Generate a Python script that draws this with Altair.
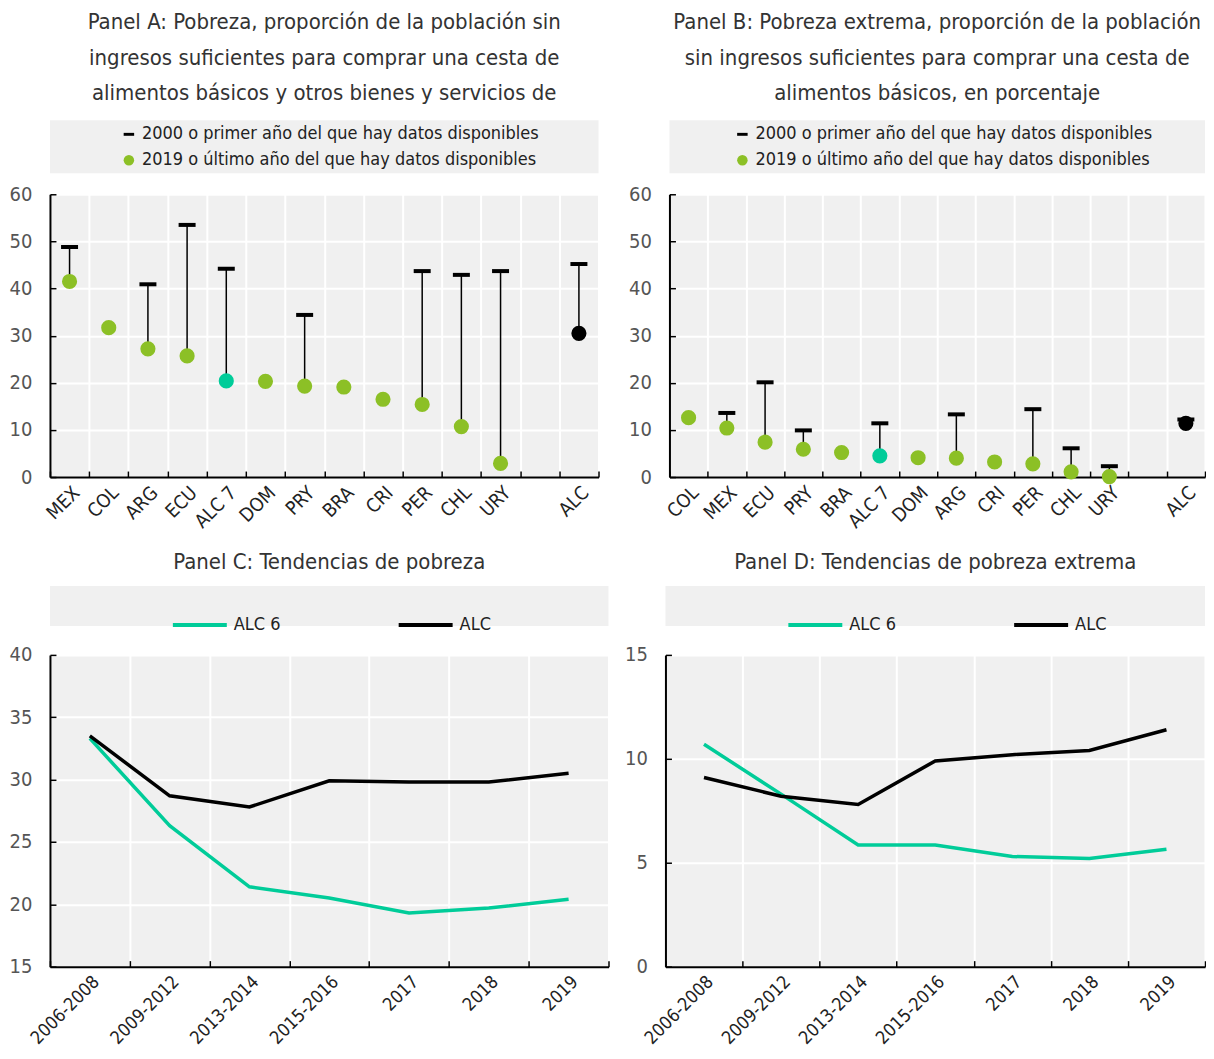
import altair as alt
import pandas as pd

FONT = "'DejaVu Sans Condensed', 'DejaVu Sans', sans-serif"
GREEN = "#8cc026"
TEAL = "#00cc99"
GRAY_BG = "#f0f0f0"

# ---------------- data ----------------
a_paises = ["MEX", "COL", "ARG", "ECU", "ALC 7", "DOM", "PRY", "BRA", "CRI", "PER", "CHL", "URY", "ALC"]
a_2019 = [41.5, 31.7, 27.2, 25.7, 20.4, 20.3, 19.3, 19.1, 16.5, 15.4, 10.7, 2.9, 30.5]
a_2000 = [48.8, None, 40.9, 53.5, 44.2, None, 34.4, None, None, 43.7, 42.9, 43.7, 45.2]

b_paises = ["COL", "MEX", "ECU", "PRY", "BRA", "ALC 7", "DOM", "ARG", "CRI", "PER", "CHL", "URY", "ALC"]
b_2019 = [12.6, 10.4, 7.4, 5.9, 5.2, 4.5, 4.1, 4.0, 3.2, 2.8, 1.1, 0.1, 11.4]
b_2000 = [None, 13.6, 20.1, 9.9, None, 11.4, None, 13.3, None, 14.4, 6.1, 2.3, 12.2]

periodos = ["2006-2008", "2009-2012", "2013-2014", "2015-2016", "2017", "2018", "2019"]
c_alc6 = [33.3, 26.3, 21.4, 20.5, 19.3, 19.7, 20.4]
c_alc = [33.5, 28.7, 27.8, 29.9, 29.8, 29.8, 30.5]
d_alc6 = [10.7, 8.3, 5.85, 5.85, 5.3, 5.2, 5.65]
d_alc = [9.1, 8.2, 7.8, 9.9, 10.2, 10.4, 11.4]

serie_2000 = "2000 o primer año del que hay datos disponibles"
serie_2019 = "2019 o último año del que hay datos disponibles"
serie_lineas = ["ALC 6", "ALC"]

titulo_a = ["Panel A: Pobreza, proporción de la población sin",
            "ingresos suficientes para comprar una cesta de",
            "alimentos básicos y otros bienes y servicios de"]
titulo_b = ["Panel B: Pobreza extrema, proporción de la población",
            "sin ingresos suficientes para comprar una cesta de",
            "alimentos básicos, en porcentaje"]
titulo_c = "Panel C: Tendencias de pobreza"
titulo_d = "Panel D: Tendencias de pobreza extrema"

DASH = "M-1,-0.28H1V0.28H-1Z"


def title_params(text, offset):
    return alt.TitleParams(text=text, font=FONT, fontSize=22, fontWeight="normal",
                           color="#333333", lineHeight=35.5, offset=offset,
                           anchor="middle", frame="group")


def ind(ch):
    return ch.resolve_scale(color="independent", shape="independent").resolve_legend(
        color="independent", shape="independent")


def tick_axes(yvals):
    """Axes that only draw the short inward ticks."""
    ty = alt.Axis(orient="left", offset=-6, tickSize=6, ticks=True, labels=False,
                  domain=False, grid=False, values=yvals, title=None, tickColor="black",
                  tickWidth=1.5, zindex=1)
    tx = alt.Axis(orient="bottom", offset=-6, tickSize=6, ticks=True, labels=False,
                  domain=False, grid=False, tickBand="extent", title=None,
                  tickColor="black", tickWidth=1.5, zindex=1)
    return tx, ty


def legend_frame():
    return dict(x=alt.X("lx:Q", axis=None), y=alt.Y("ly:Q", axis=None))


def dot_panel(paises, v2019, v2000, titulo, w, h, legx, xfont):
    df = pd.DataFrame({"pais": paises, "v2019": v2019, "v2000": v2000})
    df["grupo"] = ["ALC 7" if p == "ALC 7" else ("ALC" if p == "ALC" else "País") for p in paises]
    dom = paises[:-1] + [" ", paises[-1]]
    yvals = [0, 10, 20, 30, 40, 50, 60]
    xscale = alt.Scale(domain=dom, paddingInner=0, paddingOuter=0)
    xaxis = alt.Axis(title=None, tickBand="extent", labelAngle=-45, grid=True,
                     labelPadding=6, labelFontSize=xfont)
    yscale = alt.Scale(domain=[0, 60])
    yaxis = alt.Axis(title=None, values=yvals, grid=True, minExtent=42, maxExtent=42)
    tx, ty = tick_axes(yvals)

    stems = alt.Chart(df).transform_filter("isValid(datum.v2000)").mark_rule(
        color="black", strokeWidth=1.5).encode(
        x=alt.X("pais:N", sort=dom, scale=xscale, axis=xaxis),
        y=alt.Y("v2019:Q", scale=yscale, axis=yaxis), y2="v2000:Q")
    dashes = alt.Chart(df).transform_filter("isValid(datum.v2000)").mark_tick(
        color="black", thickness=4, size=17, opacity=1).encode(
        x=alt.X("pais:N", sort=dom, scale=xscale, axis=tx),
        y=alt.Y("v2000:Q", scale=yscale, axis=ty))
    dots = alt.Chart(df).mark_circle(size=230, opacity=1).encode(
        x=alt.X("pais:N", sort=dom, scale=xscale, axis=None),
        y=alt.Y("v2019:Q", scale=yscale, axis=None),
        color=alt.Color("grupo:N", scale=alt.Scale(domain=["País", "ALC 7", "ALC"],
                                                   range=[GREEN, TEAL, "black"]),
                        legend=None))
    plot = alt.layer(stems, dashes, dots).resolve_axis(x="independent", y="independent").properties(
        width=w, height=h)

    leg_df = pd.DataFrame({"serie": [serie_2000, serie_2019]})
    legend = alt.Legend(title=None, orient="none", legendX=legx, legendY=5,
                        labelFont=FONT, labelFontSize=18, labelColor="#222222",
                        symbolSize=110, rowPadding=8, labelOffset=4, padding=0,
                        labelLimit=600)
    leg = alt.Chart(leg_df).transform_filter("false").mark_point(filled=True, opacity=1).encode(
        color=alt.Color("serie:N", scale=alt.Scale(domain=[serie_2000, serie_2019],
                                                   range=["black", GREEN]), legend=legend),
        shape=alt.Shape("serie:N", scale=alt.Scale(domain=[serie_2000, serie_2019],
                                                   range=[DASH, "circle"]), legend=legend),
        **legend_frame()
    ).properties(width=w, height=53, title=title_params(titulo, 15))
    return ind(alt.vconcat(leg, plot, spacing=21, bounds="flush"))


def line_panel(v6, vall, ydom, yvals, titulo, w, h, legx):
    df = pd.DataFrame({"periodo": periodos * 2,
                       "serie": [serie_lineas[0]] * len(periodos) + [serie_lineas[1]] * len(periodos),
                       "valor": v6 + vall})
    cscale = alt.Scale(domain=serie_lineas, range=[TEAL, "black"])
    xscale = alt.Scale(domain=periodos, paddingInner=0, paddingOuter=0)
    yscale = alt.Scale(domain=ydom)
    xaxis = alt.Axis(title=None, tickBand="extent", labelAngle=-45, grid=True,
                     labelPadding=6, labelFontSize=18)
    yaxis = alt.Axis(title=None, values=yvals, grid=True, minExtent=42, maxExtent=42)
    tx, ty = tick_axes(yvals)
    color = alt.Color("serie:N", scale=cscale, legend=None)
    l6 = alt.Chart(df).transform_filter(alt.datum.serie == serie_lineas[0]).mark_line(
        strokeWidth=3.5).encode(
        x=alt.X("periodo:N", sort=periodos, scale=xscale, axis=xaxis),
        y=alt.Y("valor:Q", scale=yscale, axis=yaxis), color=color)
    la = alt.Chart(df).transform_filter(alt.datum.serie == serie_lineas[1]).mark_line(
        strokeWidth=3.5).encode(
        x=alt.X("periodo:N", sort=periodos, scale=xscale, axis=tx),
        y=alt.Y("valor:Q", scale=yscale, axis=ty), color=color)
    plot = alt.layer(l6, la).resolve_axis(x="independent", y="independent").properties(
        width=w, height=h)

    leg_df = pd.DataFrame({"serie": serie_lineas})
    legend = alt.Legend(title=None, orient="none", direction="horizontal", legendX=legx, legendY=10,
                        labelFont=FONT, labelFontSize=18, labelColor="#222222",
                        symbolSize=2916, symbolStrokeWidth=4, symbolType="stroke",
                        columnPadding=110, labelOffset=5, padding=0)
    leg = alt.Chart(leg_df).transform_filter("false").mark_line(strokeWidth=4).encode(
        color=alt.Color("serie:N", scale=cscale, legend=legend),
        **legend_frame()
    ).properties(width=w, height=40, title=title_params(titulo, 12))
    return ind(alt.vconcat(leg, plot, spacing=29, bounds="flush"))


panel_a = dot_panel(a_paises, a_2019, a_2000, titulo_a, 549, 283, 70, 19)
panel_b = dot_panel(b_paises, b_2019, b_2000, titulo_b, 536, 283, 64, 19)
panel_c = line_panel(c_alc6, c_alc, [15, 40], [15, 20, 25, 30, 35, 40], titulo_c, 559, 312, 121)
panel_d = line_panel(d_alc6, d_alc, [0, 15], [0, 5, 10, 15], titulo_d, 540, 312, 121)

row1 = ind(alt.hconcat(panel_a, panel_b, spacing=28))
row2 = ind(alt.hconcat(panel_c, panel_d, spacing=14))
chart = ind(alt.vconcat(row1, row2, spacing=19)).properties(
    padding={"top": 3, "left": 0, "right": 0, "bottom": 0})

chart = chart.configure_view(fill=GRAY_BG, strokeWidth=0).configure_axis(
    labelFont=FONT, labelFontSize=20, labelColor="#555555",
    domainColor="black", domainWidth=2, gridColor="white", gridWidth=2,
    ticks=False,
).configure_axisX(labelColor="#222222").configure_axisY(labelPadding=18)

chart.save("out.html", embed_options={"renderer": "svg", "actions": False})
